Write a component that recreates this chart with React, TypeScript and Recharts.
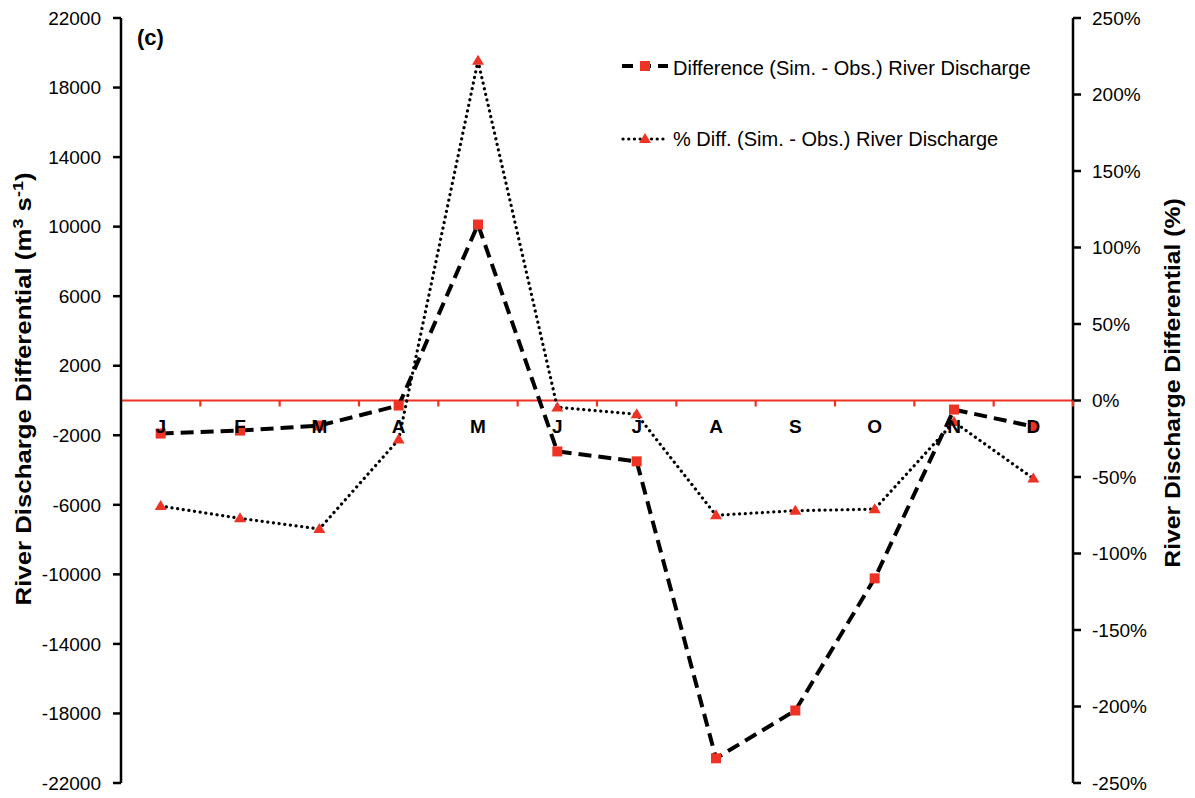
import { ComposedChart, Line, XAxis, YAxis, ReferenceLine, Customized } from "recharts"

// Monthly river discharge differences, simulated minus observed
const months = ["J", "F", "M", "A", "M", "J", "J", "A", "S", "O", "N", "D"]
const diffFlow = [-1900, -1730, -1440, -290, 10120, -2930, -3500, -20580, -17830, -10230, -520, -1500]
const diffPct = [-69, -77, -84, -25.5, 222, -4.5, -9, -75, -72, -71, -14, -51]
const flowTicks = [22000, 18000, 14000, 10000, 6000, 2000, -2000, -6000, -10000, -14000, -18000, -22000]
const pctTicks = [250, 200, 150, 100, 50, 0, -50, -100, -150, -200, -250]

const flowName = "Difference (Sim. - Obs.) River Discharge"
const pctName = "% Diff. (Sim. - Obs.) River Discharge"

const data = months.map((m, i) => ({ month: m, flow: diffFlow[i], pct: diffPct[i] }))

const W = 1195
const H = 798
const TOP = 18
const BOTTOM = 14
const LEFT = 121
const RIGHT = 122
const PLOT_W = W - LEFT - RIGHT
const PLOT_H = H - TOP - BOTTOM - 1
const ZERO_Y = TOP + PLOT_H / 2
const BW = PLOT_W / months.length
const RED = "#ee3224"
const FONT = "'Liberation Sans', Arial, sans-serif"

const MonthTick = (props: any) => {
  const { x, payload } = props
  return (
    <g>
      <line x1={x + BW / 2} x2={x + BW / 2} y1={ZERO_Y} y2={ZERO_Y + 6} stroke={RED} strokeWidth={2.2} />
      <text x={x} y={ZERO_Y + 32} textAnchor="middle" fontFamily={FONT} fontSize={19} fontWeight="bold" fill="#000">
        {payload.value}
      </text>
    </g>
  )
}

const SquareDot = (p: any) => {
  const { cx, cy, index } = p
  if (cx == null || cy == null) return <g key={index} />
  return <rect key={index} x={cx - 5} y={cy - 5} width={10} height={10} fill={RED} />
}

const TriangleDot = (p: any) => {
  const { cx, cy, index } = p
  if (cx == null || cy == null) return <g key={index} />
  return <path key={index} d={`M${cx},${cy - 6} L${cx + 6},${cy + 4} L${cx - 6},${cy + 4} Z`} fill={RED} />
}

const Extras = () => (
  <g fontFamily={FONT}>
    <text x={137} y={45} fontSize={22} fontWeight="bold" fill="#000">(c)</text>
    <text transform={`translate(31,389) rotate(-90) scale(1.2,1)`} textAnchor="middle" fontSize={21.5} fontWeight="bold" fill="#000">
      River Discharge Differential (m<tspan dy={-8} fontSize={15}>3</tspan>
      <tspan dy={8}> s</tspan>
      <tspan dy={-8} fontSize={15}>-1</tspan>
      <tspan dy={8}>)</tspan>
    </text>
    <text transform={`translate(1180,383) rotate(-90) scale(1.15,1)`} textAnchor="middle" fontSize={21.5} fontWeight="bold" fill="#000">
      River Discharge Differential (%)
    </text>
    <line x1={622} x2={668} y1={66} y2={66} stroke="#000" strokeWidth={4} strokeDasharray="11 7" />
    <rect x={640} y={61} width={10} height={10} fill={RED} />
    <text x={673} y={75} fontSize={20} fill="#000">{flowName}</text>
    <line x1={623} x2={668} y1={139} y2={139} stroke="#000" strokeWidth={3.2} strokeDasharray="0.1 5.6" strokeLinecap="round" />
    <path d="M645,133 L651,143 L639,143 Z" fill={RED} />
    <text x={673} y={146} fontSize={20} fill="#000">{pctName}</text>
  </g>
)

export default function App() {
  return (
    <div style={{ position: "absolute", left: 0, top: 0, background: "#fff" }}>
      <ComposedChart width={W} height={H} data={data} margin={{ top: TOP, right: 0, bottom: BOTTOM, left: 0 }}>
        <XAxis
          dataKey="month"
          height={1}
          padding={{ left: BW / 2, right: BW / 2 }}
          axisLine={false}
          tickLine={false}
          tick={<MonthTick />}
          interval={0}
        />
        <YAxis
          yAxisId="flow"
          width={LEFT}
          domain={[-22000, 22000]}
          ticks={flowTicks}
          interval={0}
          tickSize={8}
          tickMargin={12}
          axisLine={{ stroke: "#000", strokeWidth: 2.5 }}
          tickLine={{ stroke: "#000", strokeWidth: 2.5 }}
          tick={{ fill: "#000", fontSize: 19, fontFamily: FONT }}
        />
        <YAxis
          yAxisId="pct"
          orientation="right"
          width={RIGHT}
          domain={[-250, 250]}
          ticks={pctTicks}
          interval={0}
          tickSize={8}
          tickMargin={11}
          tickFormatter={(v) => `${v}%`}
          axisLine={{ stroke: "#000", strokeWidth: 2.5 }}
          tickLine={{ stroke: "#000", strokeWidth: 2.5 }}
          tick={{ fill: "#000", fontSize: 19, fontFamily: FONT }}
        />
        <ReferenceLine yAxisId="flow" y={0} stroke={RED} strokeWidth={2} />
        <Line
          yAxisId="pct"
          dataKey="pct"
          name={pctName}
          stroke="#000"
          strokeWidth={3.2}
          strokeDasharray="0.1 5.6"
          strokeLinecap="round"
          dot={TriangleDot}
          isAnimationActive={false}
        />
        <Line
          yAxisId="flow"
          dataKey="flow"
          name={flowName}
          stroke="#000"
          strokeWidth={4}
          strokeDasharray="13 7"
          dot={SquareDot}
          isAnimationActive={false}
        />
        <Customized component={Extras} />
      </ComposedChart>
    </div>
  )
}
